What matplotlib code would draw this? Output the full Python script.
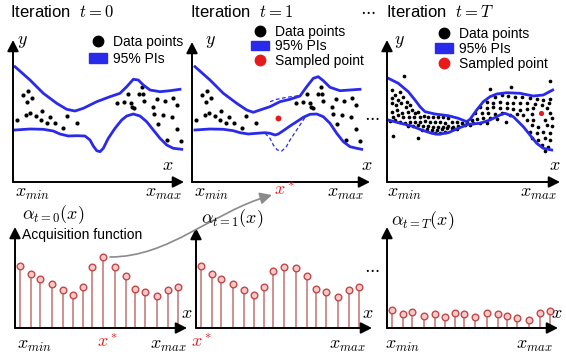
import matplotlib.pyplot as plt
from matplotlib.lines import Line2D
from matplotlib.patches import Patch, FancyArrowPatch
from matplotlib.path import Path

plt.rcParams['font.family'] = ['Liberation Sans', 'DejaVu Sans']
plt.rcParams['mathtext.fontset'] = 'cm'

BLUE = '#2a2aea'
RED = '#e8191b'
STEM = '#c47272'
MEC = '#c04848'
MFC = '#f6c8c8'

# --- iteration t=0 : prediction intervals and data (panel units) ---
up0_x = [2, 17, 30.3, 43.7, 53.7, 62, 70.3, 83.7, 97, 107, 113.7, 120.3, 125.3, 130.3, 137, 147, 157, 167]
up0_y = [115.3, 102, 88.7, 78.7, 72.7, 71, 73.7, 80.3, 85.3, 88.7, 95.3, 102.7, 102, 97, 92, 90.3, 91.3, 92.7]
lo0_x = [2, 17, 30.3, 40.3, 47, 55.3, 63.7, 72, 77, 80.3, 83.7, 87, 90.3, 95.3, 102, 108.7, 113.7,
         120.3, 127, 133.7, 140.3, 147, 153.7, 160.3, 168.7]
lo0_y = [52, 53, 52.7, 51, 48, 46, 46.3, 46, 42, 36, 31.3, 30.3, 33.7, 43.7, 53.7, 62, 66,
         68, 66, 60.3, 52, 43.7, 37, 33.7, 32.7]
pts_x = [10.3, 15.3, 13.7, 19.3, 4.3, 13, 17, 23, 28.7, 27.7, 33.7, 37, 42, 50.3, 53.7, 63.7,
         103.7, 111, 115.3, 117.7, 118.7, 121.3, 126, 129.7, 128.7, 131, 140.3, 143.7, 152, 160.3,
         163.7, 141, 150.3, 159.3, 144.7, 163.7, 154.3, 167.7]
pts_y = [87, 91.3, 80.3, 84.3, 62, 67, 68.7, 66, 71, 62, 59.3, 64.7, 59.3, 53.7, 66, 58.7,
         79.3, 80.3, 87.7, 79.3, 75.3, 74.3, 87.7, 87.7, 95.3, 81.3, 75.3, 83, 81.3, 83.7,
         77, 67.7, 67, 64.7, 58, 52.7, 42, 41]

# --- iteration t=1 ---
up1_x = [3, 18, 31.3, 44.7, 54.7, 61.3, 68, 78, 88, 98, 108, 114.7, 121.3, 126.3, 131.3, 138, 148, 158, 168]
up1_y = [115.3, 102, 88.7, 78.7, 72, 69.7, 72, 75.3, 80.3, 82.7, 86, 95.3, 103.7, 105.3, 101.3, 94.7, 91.3, 92, 92.7]
up1_old_x = [78, 84.7, 94.7, 104.7, 109.7]
up1_old_y = [80.3, 82.7, 84.7, 86, 87.3]
lo1_x = [3, 18, 31.3, 41.3, 48, 56.3, 64.7, 73, 78, 83, 86.3, 91.3, 98, 104.7, 111.3, 118,
         124.7, 131.3, 138, 144.7, 151.3, 158, 164.7, 169.7]
lo1_y = [52, 53, 52.7, 51.3, 49.3, 48, 48.7, 49.3, 48.7, 47, 48, 51.3, 56, 60.3, 64.7, 67.7,
         68, 65.3, 58.7, 48.7, 40.3, 35.3, 33.7, 32.7]
lo1_old_x = [73, 78, 81.3, 85.3, 89.7, 94, 98, 104.7, 111.3, 114.7]
lo1_old_y = [48.7, 43.7, 37, 32, 31, 34.7, 42, 52, 62, 67]
new1_x = [86.3]
new1_y = [63.7]

# --- iteration t=T ---
upT_x = [1.3, 11.3, 21.3, 28, 33, 38, 48, 61.3, 71.3, 79.7, 83, 89.7, 96.3, 103, 109.7, 119.7, 133, 146.3, 156.3, 165.7]
upT_y = [103.7, 98.7, 90.3, 82, 75.3, 70.3, 68, 66.3, 63.7, 60.3, 62.7, 72, 80.3, 85.3, 88, 89.3, 88.7, 86, 87, 92]
loT_x = [1.3, 11.3, 24.7, 34.7, 44.7, 51.3, 61.3, 71.3, 81.3, 93, 103, 113, 118, 126.3, 136.3,
         143, 149.7, 156.3, 164.7]
loT_y = [62, 59.3, 56, 52, 48.7, 47.7, 49.3, 53.7, 57.7, 58.7, 62, 67, 68.7, 65.3, 55.3,
         47, 38.7, 33.7, 32]
ptsT_x = [17.3, 4.7, 8, 13, 5.3, 10.7, 16.3, 19.7, 4.7, 8.7, 14, 18.7, 23, 4.7, 9.7, 14.7, 20.7,
          24.7, 28, 31.3, 6.3, 11.3, 16.3, 22, 27.3, 33, 37.3, 41.3, 46.3, 51.3, 56.3, 61.3, 3, 8,
          13, 18, 23, 28, 33, 38, 43, 48, 53, 58, 64.7, 69.7, 74.7, 79.7, 21.3, 26.3, 31.3, 36.3,
          41.3, 46.3, 51.3, 56.3, 61.3, 66.3, 71.3, 78, 83, 34.7, 39.7, 44.7, 49.7, 54.7, 59.7,
          64.7, 69.7, 48, 53, 58, 6.3, 31.3,
          103, 124, 163, 108, 114.7, 121.3, 128, 134.7, 143, 149.7, 156.3, 163, 99.7, 106.3, 113,
          119.7, 126.3, 133, 139.7, 148, 154.7, 162.3, 93, 99.7, 106.3, 113, 119.7, 126.3, 133,
          139.7, 146.3, 159.7, 88, 94.7, 101.3, 108, 114.7, 123, 129.7, 136.3, 144.7, 163, 84.7,
          90.3, 96.3, 103, 109.7, 139.7, 146.3, 158, 164.7, 86.3, 93, 99.7, 144.7, 151.3, 159.7,
          164.7, 143, 149.7, 156.3, 163, 144.7, 151.3, 158, 163, 154.7, 161.3, 158, 119]
ptsT_y = [106.3, 92, 87, 90.3, 83.7, 82, 85.3, 80.3, 78.7, 77, 78.7, 75.3, 77, 70.3, 72, 69.3, 70.3,
          72, 68.7, 70.3, 65.3, 67, 65.3, 64.7, 65.3, 65.3, 66, 64.7, 65.3, 65.3, 64.7, 63.7, 61.3, 62,
          60.3, 59.3, 60.3, 60.3, 60.3, 61.3, 60.3, 60.3, 60.3, 59.3, 60.3, 60.3, 59.3, 58.7, 56, 56, 57, 56,
          56, 55.3, 55.3, 55.3, 56, 55.3, 56, 57, 57, 52, 52.7, 52, 52, 52.7, 53.7,
          53.7, 52.7, 48.7, 49.3, 50.3, 46, 44.3,
          92.7, 94.7, 101.3, 85.3, 87, 86, 85.3, 84.7, 83.7, 82.7, 82, 82.7, 80.3, 79.3, 80.3,
          79.3, 78.7, 79.3, 78.7, 78, 77, 78.7, 75.3, 73.7, 74.7, 73.7, 73.7, 72.7, 72,
          72.7, 73.7, 73.7, 68.7, 69.3, 68.7, 68, 68.7, 67, 68, 67, 68, 69.3, 62,
          62.7, 63.7, 63.7, 62.7, 62, 62, 62, 63.7, 58.7, 59.3, 59.3, 57, 55.3, 57,
          56, 50.3, 48.7, 50.3, 48.7, 43.7, 42, 43.7, 42, 37, 35.3, 31.3, 60.3]
newT_x = [153.7]
newT_y = [68.7]

# --- acquisition function ---
acq_x = [4.5, 15.5, 25, 37, 47.5, 58, 68, 76.5, 88, 100, 111, 119.5, 130, 142, 153, 163.3]
acq_t0 = [62, 54, 49, 44, 38, 33, 41, 61, 71, 61, 52, 39, 36, 32, 38, 41]
acq_t1 = [62, 54, 49, 44, 38, 33, 41, 57, 61, 60, 52, 39, 36, 31, 38, 41]
acq_tT = [18, 14, 16, 12, 14, 11, 15, 14, 11, 15, 14, 12, 10, 8, 15, 17]

W, H = 566, 358
fig = plt.figure(figsize=(W / 100, H / 100), dpi=100)
ov = fig.add_axes([0, 0, 1, 1], zorder=5)
ov.set_xlim(0, W)
ov.set_ylim(H, 0)
ov.axis('off')


def panel(ox, oy, tx, ty):
    ax = fig.add_axes([ox / W, 1 - oy / H, (tx - ox) / W, (oy - ty) / H])
    ax.set_xlim(0, tx - ox)
    ax.set_ylim(0, oy - ty)
    ax.axis('off')
    ap = dict(arrowstyle='-|>,head_length=0.55,head_width=0.28', lw=1.4, color='k',
              shrinkA=0, shrinkB=0, mutation_scale=12)
    ax.annotate('', xy=(1, 0), xytext=(0, 0), xycoords='axes fraction', arrowprops=ap)
    ax.annotate('', xy=(0, 1), xytext=(0, 0), xycoords='axes fraction', arrowprops=ap)
    return ax


ax1 = panel(13, 182, 184, 40)
ax2 = panel(192, 182, 370, 42)
ax3 = panel(387, 182, 560, 40)
ax4 = panel(15, 328, 187, 227)
ax5 = panel(196, 328, 372, 228)
ax6 = panel(387, 328, 558, 227)

lw = 2.0
ax1.plot(up0_x, up0_y, color=BLUE, lw=lw, clip_on=False)
ax1.plot(lo0_x, lo0_y, color=BLUE, lw=lw, clip_on=False)
ax1.scatter(pts_x, pts_y, s=9, color='k', lw=0, clip_on=False)

ax2.plot(up1_x, up1_y, color=BLUE, lw=lw, clip_on=False)
ax2.plot(lo1_x, lo1_y, color=BLUE, lw=lw, clip_on=False)
ax2.plot(up1_old_x, up1_old_y, color=BLUE, lw=0.9, ls=(0, (3, 2)))
ax2.plot(lo1_old_x, lo1_old_y, color=BLUE, lw=0.9, ls=(0, (3, 2)))
ax2.scatter(pts_x, pts_y, s=9, color='k', lw=0, clip_on=False)
ax2.scatter(new1_x, new1_y, s=18, color=RED, lw=0, zorder=4)

ax3.plot(upT_x, upT_y, color=BLUE, lw=lw, clip_on=False)
ax3.plot(loT_x, loT_y, color=BLUE, lw=lw, clip_on=False)
ax3.scatter(ptsT_x, ptsT_y, s=7, color='k', lw=0, clip_on=False)
ax3.scatter(newT_x, newT_y, s=14, color=RED, lw=0, zorder=4)

for ax, vals in [(ax4, acq_t0), (ax5, acq_t1), (ax6, acq_tT)]:
    ax.vlines(acq_x, 0, vals, color=STEM, lw=1.1)
    ax.plot(acq_x, vals, 'o', ms=4.8, mfc=MFC, mec=MEC, mew=1.0, ls='')

# legends
dot_h = Line2D([], [], marker='o', ls='', color='k', ms=7.5)
pi_h = Patch(color=BLUE)
red_h = Line2D([], [], marker='o', ls='', color=RED, ms=7.5)
leg_kw = dict(loc='upper left', frameon=False, fontsize=10, borderpad=0, borderaxespad=0,
              handlelength=1.3, handletextpad=0.45, bbox_transform=ov.transData)
ax1.legend([dot_h, pi_h], ['Data points', '95% PIs'], bbox_to_anchor=(89, 35),
           labelspacing=0.22, **leg_kw)
ax2.legend([dot_h, pi_h, red_h], ['Data points', '95% PIs', 'Sampled point'],
           bbox_to_anchor=(251, 25), labelspacing=0.02, **leg_kw)
ax3.legend([dot_h, pi_h, red_h], ['Data points', '95% PIs', 'Sampled point'],
           bbox_to_anchor=(435, 27), labelspacing=0.08, **leg_kw)

# titles and labels
tk = dict(fontsize=12, va='center')
ov.text(10, 12, 'Iteration  $t=0$', ha='left', **tk)
ov.text(190, 12, 'Iteration  $t=1$', ha='left', **tk)
ov.text(386, 12, 'Iteration  $t=T$', ha='left', **tk)
for x, y in [(368, 10), (372, 116), (372, 268)]:
    ov.text(x, y, r'$\cdots$', ha='center', va='center', fontsize=12)

mk = dict(fontsize=13, ha='center', va='center')
for x in (22, 210, 399):
    ov.text(x, 42, '$y$', **mk)
for x in (168, 367, 555):
    ov.text(x, 165, '$x$', **mk)
for x in (187, 368, 557):
    ov.text(x, 313, '$x$', **mk)
for x, y in [(33, 193), (212, 193), (405, 193), (35, 345), (403, 345)]:
    ov.text(x, y, '$x_{min}$', **mk)
for x, y in [(163, 193), (345, 193), (538, 193), (168, 345), (347, 345), (534, 345)]:
    ov.text(x, y, '$x_{max}$', **mk)
for x, y in [(285, 191), (108, 343), (202, 343)]:
    ov.text(x, y, '$x^*$', color=RED, **mk)

ov.text(22, 215, r'$\alpha_{t=0}(x)$', fontsize=13, ha='left', va='center')
ov.text(201, 219, r'$\alpha_{t=1}(x)$', fontsize=13, ha='left', va='center')
ov.text(391, 221, r'$\alpha_{t=T}(x)$', fontsize=13, ha='left', va='center')
ov.text(22, 235, 'Acquisition function', fontsize=10, ha='left', va='center')

arc = Path([(110, 257), (170, 257), (212, 212), (272, 195)],
           [Path.MOVETO, Path.CURVE4, Path.CURVE4, Path.CURVE4])
ov.add_patch(FancyArrowPatch(path=arc, arrowstyle='-|>,head_length=0.6,head_width=0.3',
                             mutation_scale=12, color='#8a8a8a', lw=1.2))

fig.savefig('out.png', dpi=100)
